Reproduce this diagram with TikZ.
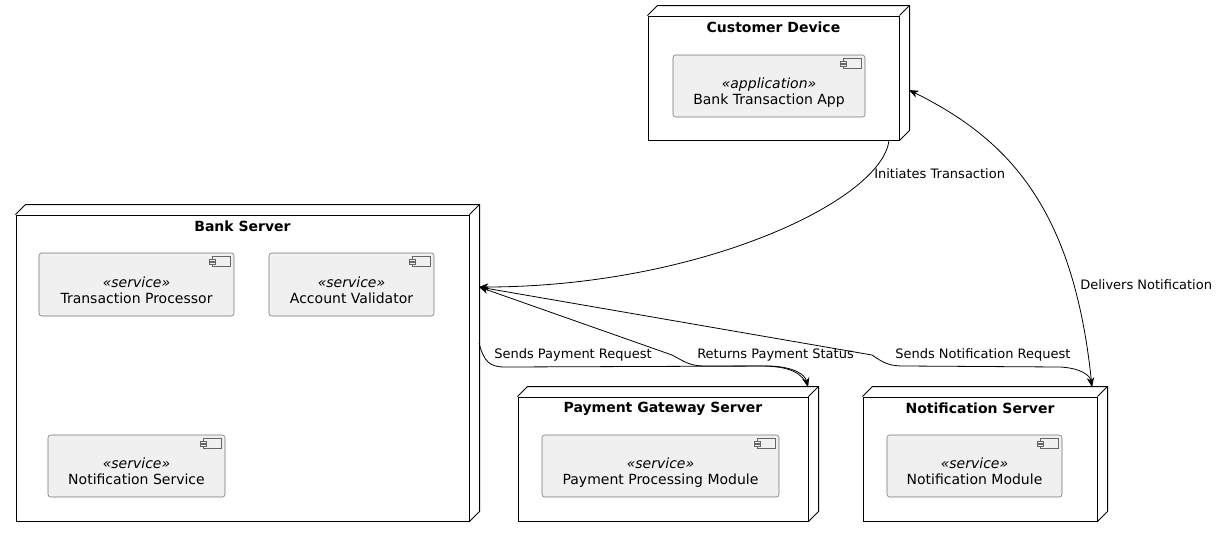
\documentclass[tikz,border=0pt]{standalone}
\usepackage{fontspec}
\setmainfont{DejaVu Sans}
\usetikzlibrary{arrows.meta}

\tikzset{
  device/.style={draw, line width=0.75pt, inner sep=0pt},
  devtitle/.style={font=\fontsize{10.5}{12}\selectfont\bfseries, inner sep=0pt},
  component/.style={draw=black!55, fill=black!6, line width=0.4pt,
    rounded corners=2pt, align=center, inner sep=0pt,
    font=\fontsize{10.5}{12}\selectfont},
  link/.style={line width=0.6pt, -{Stealth[length=7pt,width=5.5pt,inset=2pt]}},
  linklabel/.style={font=\fontsize{9.75}{11}\selectfont, anchor=west, inner sep=0pt},
}

% depth faces of a device box
\newcommand\devdepth[1]{%
  \draw[line width=0.75pt] (#1.north west) -- ++(10,-10)
    -- ([shift={(10,-10)}]#1.north east) -- ([shift={(10,-10)}]#1.south east)
    -- (#1.south east);
  \draw[line width=0.75pt] (#1.north east) -- ++(10,-10);}

% small component glyph
\newcommand\compicon[1]{%
  \draw[black!60, fill=black!6, line width=0.4pt]
    ([shift={(-22,4)}]#1.north east) rectangle ([shift={(-4,14)}]#1.north east);
  \draw[black!60, fill=black!6, line width=0.4pt]
    ([shift={(-25,6.5)}]#1.north east) rectangle ([shift={(-19,8.5)}]#1.north east)
    ([shift={(-25,10)}]#1.north east) rectangle ([shift={(-19,12)}]#1.north east);}

\newcommand\comptext[2]{\raisebox{-5.5pt}[\height][\depth]{%
  \begin{tabular}{@{}c@{}}\textit{«#1»}\\#2\end{tabular}}}

\begin{document}
\begin{tikzpicture}[x=0.75pt, y=-0.75pt]
  \useasboundingbox (0,0) rectangle (1218,537);

  % devices
  \node[device, minimum width=251*0.75pt, minimum height=124*0.75pt] (customer) at (773.5,78) {};
  \node[device, minimum width=453*0.75pt, minimum height=306*0.75pt] (bank) at (242.5,368) {};
  \node[device, minimum width=290*0.75pt, minimum height=124*0.75pt] (payment) at (663,459) {};
  \node[device, minimum width=234*0.75pt, minimum height=124*0.75pt] (notifsrv) at (980,459) {};
  \devdepth{customer}
  \devdepth{bank}
  \devdepth{payment}
  \devdepth{notifsrv}

  \node[devtitle] (customertitle) at ([shift={(0,12)}]customer.north) {Customer Device};
  \node[devtitle] (banktitle) at ([shift={(0,12)}]bank.north) {Bank Server};
  \node[devtitle] (paymenttitle) at ([shift={(0,12)}]payment.north) {Payment Gateway Server};
  \node[devtitle] (notifsrvtitle) at ([shift={(0,12)}]notifsrv.north) {Notification Server};

  % components
  \node[component, minimum width=192*0.75pt, minimum height=62*0.75pt] (app) at (769,86)
    {\comptext{application}{Bank Transaction App}};
  \node[component, minimum width=195*0.75pt, minimum height=63*0.75pt] (txproc) at (136.5,284.5)
    {\comptext{service}{Transaction Processor}};
  \node[component, minimum width=165*0.75pt, minimum height=63*0.75pt] (validator) at (351.5,284.5)
    {\comptext{service}{Account Validator}};
  \node[component, minimum width=177*0.75pt, minimum height=62*0.75pt] (notifsvc) at (136.5,466)
    {\comptext{service}{Notification Service}};
  \node[component, minimum width=237*0.75pt, minimum height=62*0.75pt] (paymod) at (660.5,466)
    {\comptext{service}{Payment Processing Module}};
  \node[component, minimum width=175*0.75pt, minimum height=62*0.75pt] (notifmod) at (974.5,466)
    {\comptext{service}{Notification Module}};
  \compicon{app}
  \compicon{txproc}
  \compicon{validator}
  \compicon{notifsvc}
  \compicon{paymod}
  \compicon{notifmod}

  % ports
  \coordinate (bankin) at (479,287);
  \coordinate (bankout) at (479,343);
  \coordinate (custbottom) at (889,140);
  \coordinate (custside) at (909,90);
  \coordinate (paytop) at (808,387);
  \coordinate (nstop) at (1092,387);

  % links
  \draw[link] (custbottom) .. controls (883,200) and (700,287) .. (bankin);
  \draw[link] (nstop) .. controls (1075,210) and (1010,140) .. (custside);
  \draw[link] (bankout) .. controls (484,362) and (490,367) .. (505,367)
    -- (770,366) .. controls (795,367) and (805,375) .. (paytop);
  \draw[link] (paytop) .. controls (803,373) and (790,366) .. (760,366)
    -- (705,366) .. controls (690,366) and (685,362) .. (672,355) -- (bankin);
  \draw[link] (bankin) -- (872,355) .. controls (885,364) and (890,366) .. (905,366)
    -- (1060,367) .. controls (1080,368) and (1090,375) .. (nstop);

  \node[linklabel] (initlabel) at (874,174) {Initiates Transaction};
  \node[linklabel] (deliverlabel) at (1080,285) {Delivers Notification};
  \node[linklabel] (paylabel) at (494,355) {Sends Payment Request};
  \node[linklabel] (statuslabel) at (697,355) {Returns Payment Status};
  \node[linklabel] (notiflabel) at (895,355) {Sends Notification Request};
\end{tikzpicture}
\end{document}
